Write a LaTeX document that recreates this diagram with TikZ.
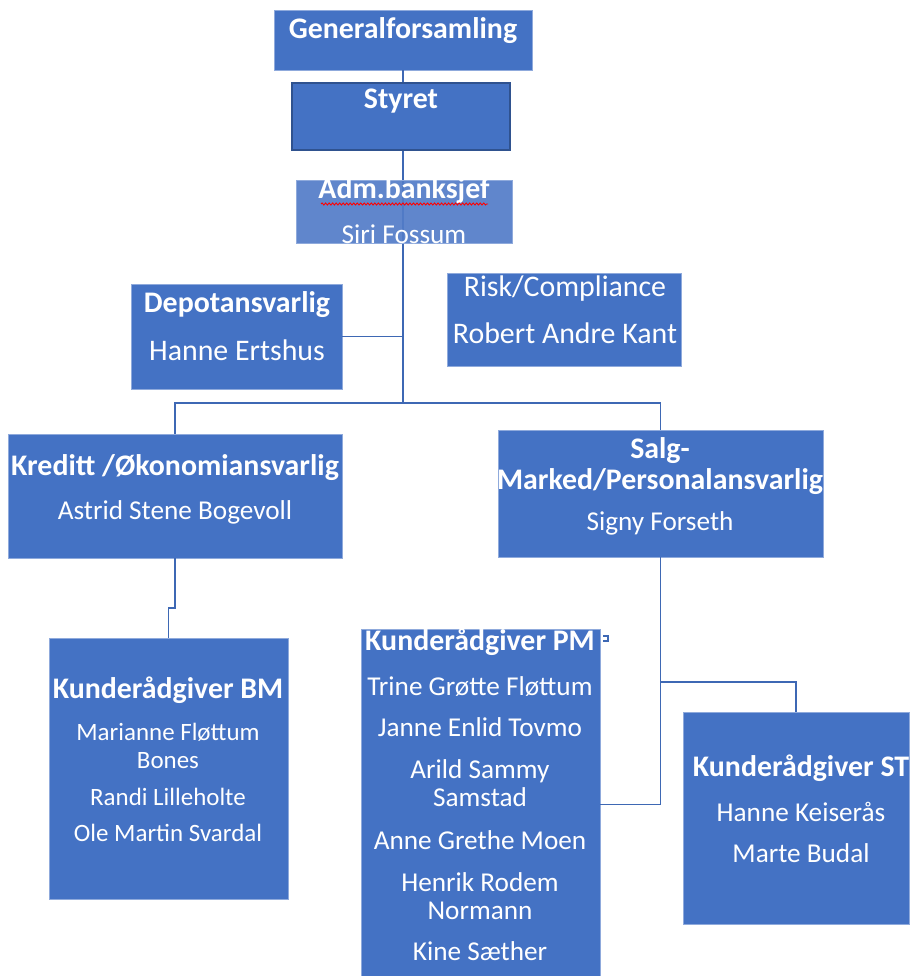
\documentclass[tikz,border=0pt]{standalone}
\usepackage{fontspec}
\setmainfont{Carlito}
\usepackage{tikz}
\usetikzlibrary{fit,decorations.pathmorphing}

\definecolor{boxblue}{HTML}{4472C4}
\definecolor{admblue}{HTML}{527CC8}
\definecolor{boxedge}{HTML}{8FAADC}
\definecolor{darkedge}{HTML}{2F528F}
\definecolor{lineblue}{HTML}{3E68B4}

\begin{document}
\begin{tikzpicture}[x=0.02cm, y=-0.02cm,
    box/.style={draw=boxedge, fill=boxblue, line width=0.5pt, inner sep=0pt},
    conn/.style={draw=lineblue, line width=1.1pt},
    txt/.style={text=white, inner sep=0pt, align=center, font=\fontsize{15.5}{16}\selectfont},
    bigtxt/.style={txt, font=\fontsize{17}{18}\selectfont},
    smalltxt/.style={txt, font=\fontsize{14.2}{15.5}\selectfont},
    head/.style={text=white, inner sep=0pt, align=center, font=\fontsize{17}{18}\selectfont\bfseries}]
    \useasboundingbox (0,0) rectangle (910,976);

    \node[box, fit={(274,10) (532,70)}] (gen) {};
    \node[box, draw=darkedge, line width=1.2pt, fit={(292,83) (510,150)}] (sty) {};
    \node[box, fit={(131,284) (342,389)}] (dep) {};
    \node[box, fit={(447,273) (681,366)}] (risk) {};
    \node[box, fit={(8,434) (342,558)}] (kre) {};
    \node[box, fit={(498,430) (823,557)}] (salg) {};
    \node[box, fit={(49,638) (288,899)}] (bm) {};
    \node[box, fit={(361,629) (600,980)}] (pm) {};
    \node[box, fit={(683,712) (909,924)}] (st) {};
    \coordinate (hub) at (403,403);

    \draw[conn] (hub |- gen.south) -- (hub |- sty.north);
    \draw[conn] (hub |- sty.south) -- (hub);
    \draw[conn] (dep.east) -- (dep.east -| hub);
    \draw[conn] (kre.north) |- (hub) -| (salg.north);
    \draw[conn] (kre.south) -- ++(0,50) -| (bm.north);
    \draw[conn] (salg.south) |- (pm.east);
    \draw[conn] (salg.south |- 0,682) -| (st.north);
    \draw[conn, line width=0.8pt] (603,636) -- (608,636) -- (608,641) -- (603,641);

    \node[box, fill=admblue, fill opacity=0.92, fit={(296,180) (512,243)}] (adm) {};

    \node[head] (gent) at (403,31) {Generalforsamling};
    \node[head] (styt) at (401,101) {Styret};
    \node[head] (admt) at (404,191) {Adm.banksjef};
    \node[txt] (admn) at (404,234) {Siri Fossum};
    \draw[red, line width=0.5pt, decorate, decoration={snake, amplitude=0.6pt, segment length=2pt}]
        (321,204) -- (488,204);
    \node[head] (dept) at (237,305) {Depotansvarlig};
    \node[bigtxt] (depn) at (237,350) {Hanne Ertshus};
    \node[bigtxt] (riskt) at (565,289) {Risk/Compliance};
    \node[bigtxt] (riskn) at (565,333) {Robert Andre Kant};
    \node[head] (kret) at (175,468) {Kreditt /Økonomiansvarlig};
    \node[txt] (kren) at (175,512) {Astrid Stene Bogevoll};
    \node[head] (salgt) at (660,466) {Salg-\\Marked/Personalansvarlig};
    \node[txt] (salgn) at (660,523) {Signy Forseth};

    \node[head] (bmt) at (168,690) {Kunderådgiver BM};
    \node[smalltxt] (bm1) at (168,746) {Marianne Fløttum\\Bones};
    \node[smalltxt] (bm2) at (168,797) {Randi Lilleholte};
    \node[smalltxt] (bm3) at (168,833) {Ole Martin Svardal};

    \node[head] (pmt) at (480,642) {Kunderådgiver PM};
    \node[txt] (pm1) at (480,687) {Trine Grøtte Fløttum};
    \node[txt] (pm2) at (480,727) {Janne Enlid Tovmo};
    \node[txt] (pm3) at (480,783) {Arild Sammy\\Samstad};
    \node[txt] (pm4) at (480,840) {Anne Grethe Moen};
    \node[txt] (pm5) at (480,896) {Henrik Rodem\\Normann};
    \node[txt] (pm6) at (480,951) {Kine Sæther};

    \node[head] (stt) at (801,768) {Kunderådgiver ST};
    \node[txt] (st1) at (801,812) {Hanne Keiserås};
    \node[txt] (st2) at (801,853) {Marte Budal};
\end{tikzpicture}
\end{document}
